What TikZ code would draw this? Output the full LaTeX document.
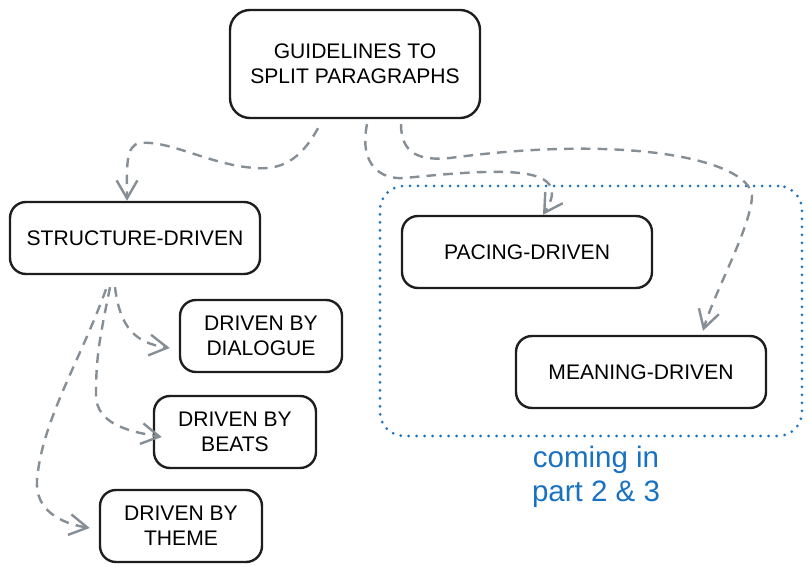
\documentclass[tikz,border=0pt]{standalone}
\usepackage{fontspec}
\setmainfont{Liberation Sans}
\usepackage{xcolor}
\usetikzlibrary{arrows.meta}

\definecolor{ink}{HTML}{1E1E1E}
\definecolor{linkgray}{HTML}{868E96}
\definecolor{soonblue}{HTML}{1971C2}

\begin{document}
\begin{tikzpicture}[x=0.25mm,y=-0.25mm,
  box/.style={draw=ink,line width=0.6mm,rounded corners=4mm,inner sep=0pt,align=center,font=\fontsize{15}{18}\selectfont},
  wide/.style={minimum width=62.5mm,minimum height=18mm},
  small/.style={minimum width=40.5mm,minimum height=18mm},
  later/.style={draw=soonblue,line width=0.75mm,dash pattern=on 0pt off 2mm,line cap=round,rounded corners=6mm,minimum width=105.5mm,minimum height=62.5mm},
  note/.style={text=soonblue,align=center,font=\fontsize{21}{24}\selectfont},
  link/.style={draw=linkgray,line width=0.6mm,dash pattern=on 2.4mm off 1.8mm,-{Straight Barb[length=4.5mm,width=5.2mm]}}]
 \useasboundingbox (0,0) rectangle (811,573);
 % top
 \node[box,minimum width=62.5mm,minimum height=27mm,rounded corners=5mm] (guide) at (355,64) {GUIDELINES TO\\SPLIT PARAGRAPHS};
 % left branch
 \node[box,wide] (struct) at (135,238) {STRUCTURE-DRIVEN};
 \node[box,small] (dial) at (261,336) {DRIVEN BY\\DIALOGUE};
 \node[box,small] (beats) at (235,432) {DRIVEN BY\\BEATS};
 \node[box,small] (theme) at (181,526) {DRIVEN BY\\THEME};
 % right branch, not yet written
 \node[later] (soon) at (591,311) {};
 \node[box,wide] (pacing) at (527,252) {PACING-DRIVEN};
 \node[box,wide] (meaning) at (641,372) {MEANING-DRIVEN};
 \node[note] (soonlab) at (596,477) {coming in\\part 2 \& 3};
 % links from the top
 \draw[link] ([xshift=-9.25mm,yshift=-2.25mm]guide.south) .. controls +(-18,33) and +(25,2) .. (255,168)
   .. controls +(-45,-3) and +(30,-3) .. (140,143)
   .. controls +(-15,2) and +(0,-32) .. ([xshift=-2mm]struct.north);
 \draw[link] ([xshift=3mm,yshift=-1.25mm]guide.south) .. controls +(-8,40) and +(-25,2) .. (405,178)
   .. controls +(100,-10) and +(32,-50) .. ([xshift=4mm]pacing.north);
 \draw[link] ([xshift=11.5mm,yshift=-1.25mm]guide.south) .. controls +(0,30) and +(-30,3) .. (450,158)
   .. controls +(180,-24) and +(-5,-35) .. (752,195)
   .. controls +(0,30) and +(12,-40) .. ([xshift=15.5mm,yshift=1mm]meaning.north);
 % links under structure
 \draw[link] ([xshift=-5mm,yshift=-3mm]struct.south) .. controls +(5,40) and +(-35,-5) .. ([xshift=-2.25mm,yshift=-3mm]dial.west);
 \draw[link] ([xshift=-6.25mm,yshift=-3mm]struct.south) .. controls +(-10,50) and +(0,-40) .. (96,395)
   .. controls +(0,30) and +(-30,-5) .. ([xshift=2.25mm,yshift=-1.25mm]beats.west);
 \draw[link] ([xshift=-7.25mm,yshift=-3.5mm]struct.south) .. controls +(-25,70) and +(5,-60) .. (37,480)
   .. controls +(-2,30) and +(-30,-5) .. ([xshift=-2.25mm,yshift=-0.5mm]theme.west);
\end{tikzpicture}
\end{document}
